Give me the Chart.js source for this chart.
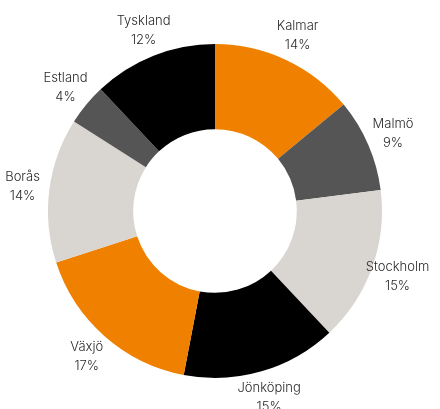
<!DOCTYPE html>
<html>
<head>
<meta charset="utf-8">
<script src="https://cdn.jsdelivr.net/npm/chart.js@4/dist/chart.umd.min.js"></script>
<style>
  html, body { margin: 0; padding: 0; background: #fff; }
  #wrap { width: 440px; height: 409px; }
</style>
</head>
<body>
<div id="wrap"><canvas id="donut"></canvas></div>
<script>
const labels = ['Kalmar', 'Malmö', 'Stockholm', 'Jönköping', 'Växjö', 'Borås', 'Estland', 'Tyskland'];
const shares = [14, 9, 15, 15, 17, 14, 4, 12];
const colors = ['#f08100', '#555555', '#d9d5d0', '#000000', '#f08100', '#d9d5d0', '#555555', '#000000'];

// draws "name / xx%" outside each slice
const outsideLabels = {
    id: 'outsideLabels',
    afterDatasetsDraw(chart) {
        const ctx = chart.ctx;
        const meta = chart.getDatasetMeta(0);
        ctx.save();
        ctx.font = '300 13px Inter, "Noto Sans", sans-serif';
        ctx.fillStyle = '#2a2a2a';
        ctx.textAlign = 'center';
        ctx.textBaseline = 'middle';
        meta.data.forEach((arc, i) => {
            const p = arc.getProps(['x', 'y', 'startAngle', 'endAngle', 'outerRadius'], true);
            const mid = (p.startAngle + p.endAngle) / 2;
            const r = p.outerRadius + 27;
            const x = p.x + Math.cos(mid) * r;
            const y = p.y + Math.sin(mid) * r;
            ctx.fillText(labels[i], x, y - 9.5);
            ctx.fillText(shares[i] + '%', x, y + 9.5);
        });
        ctx.restore();
    }
};

new Chart(document.getElementById('donut'), {
    type: 'doughnut',
    data: {
        labels: labels,
        datasets: [{
            data: shares,
            backgroundColor: colors,
            borderWidth: 0,
            hoverOffset: 0
        }]
    },
    options: {
        responsive: true,
        maintainAspectRatio: false,
        animation: false,
        cutout: '49%',
        layout: { padding: { top: 44, bottom: 31, left: 48, right: 58 } },
        plugins: {
            legend: { display: false },
            tooltip: { enabled: false }
        }
    },
    plugins: [outsideLabels]
});
</script>
</body>
</html>
